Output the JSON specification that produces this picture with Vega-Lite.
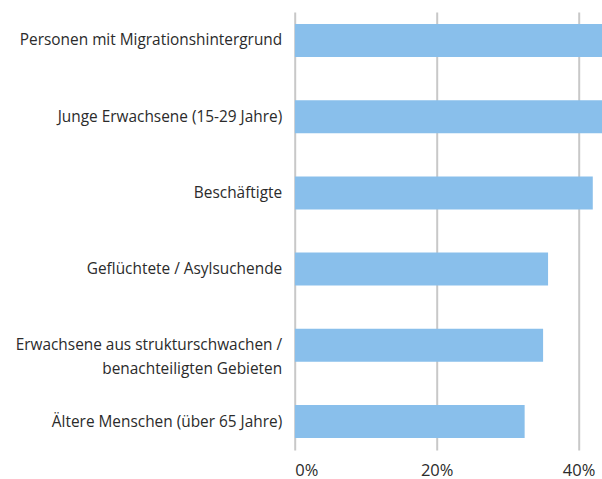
{
  "$schema": "https://vega.github.io/schema/vega-lite/v6.json",
  "width": 307.3,
  "height": 438,
  "autosize": {"type": "none"},
  "padding": {"left": 294.7, "top": 12, "right": 0, "bottom": 29},
  "background": "white",
  "config": {"view": {"stroke": null}, "font": "Open Sans"},
  "data": {
    "values": [
      {"gruppe": "Personen mit Migrationshintergrund", "wert": 0.45, "ord": 1},
      {"gruppe": "Junge Erwachsene (15-29 Jahre)", "wert": 0.44, "ord": 2},
      {"gruppe": "Beschäftigte", "wert": 0.42, "ord": 3},
      {"gruppe": "Geflüchtete / Asylsuchende", "wert": 0.357, "ord": 4},
      {"gruppe": "Erwachsene aus strukturschwachen /|benachteiligten Gebieten", "wert": 0.35, "ord": 5},
      {"gruppe": "Ältere Menschen (über 65 Jahre)", "wert": 0.324, "ord": 6}
    ]
  },
  "mark": {"type": "bar", "color": "#89bfeb", "clip": true},
  "encoding": {
    "y": {
      "field": "gruppe",
      "type": "nominal",
      "sort": {"field": "ord", "order": "ascending"},
      "scale": {"paddingInner": 0.567, "paddingOuter": 0.157},
      "axis": {
        "title": null,
        "domain": false,
        "ticks": false,
        "labelPadding": 13,
        "labelFontSize": 15.4,
        "labelColor": "#2b2b2b",
        "labelLimit": 400,
        "labelLineHeight": 24,
        "labelExpr": "split(datum.value, '|')"
      }
    },
    "x": {
      "field": "wert",
      "type": "quantitative",
      "scale": {"domain": [0, 0.433], "nice": false},
      "axis": {
        "title": null,
        "format": ".0%",
        "values": [0, 0.2, 0.4],
        "domain": false,
        "ticks": false,
        "grid": true,
        "gridColor": "#c8c8c8",
        "gridWidth": 2,
        "labelPadding": 12,
        "labelFontSize": 16.5,
        "labelColor": "#2b2b2b"
      }
    }
  }
}
